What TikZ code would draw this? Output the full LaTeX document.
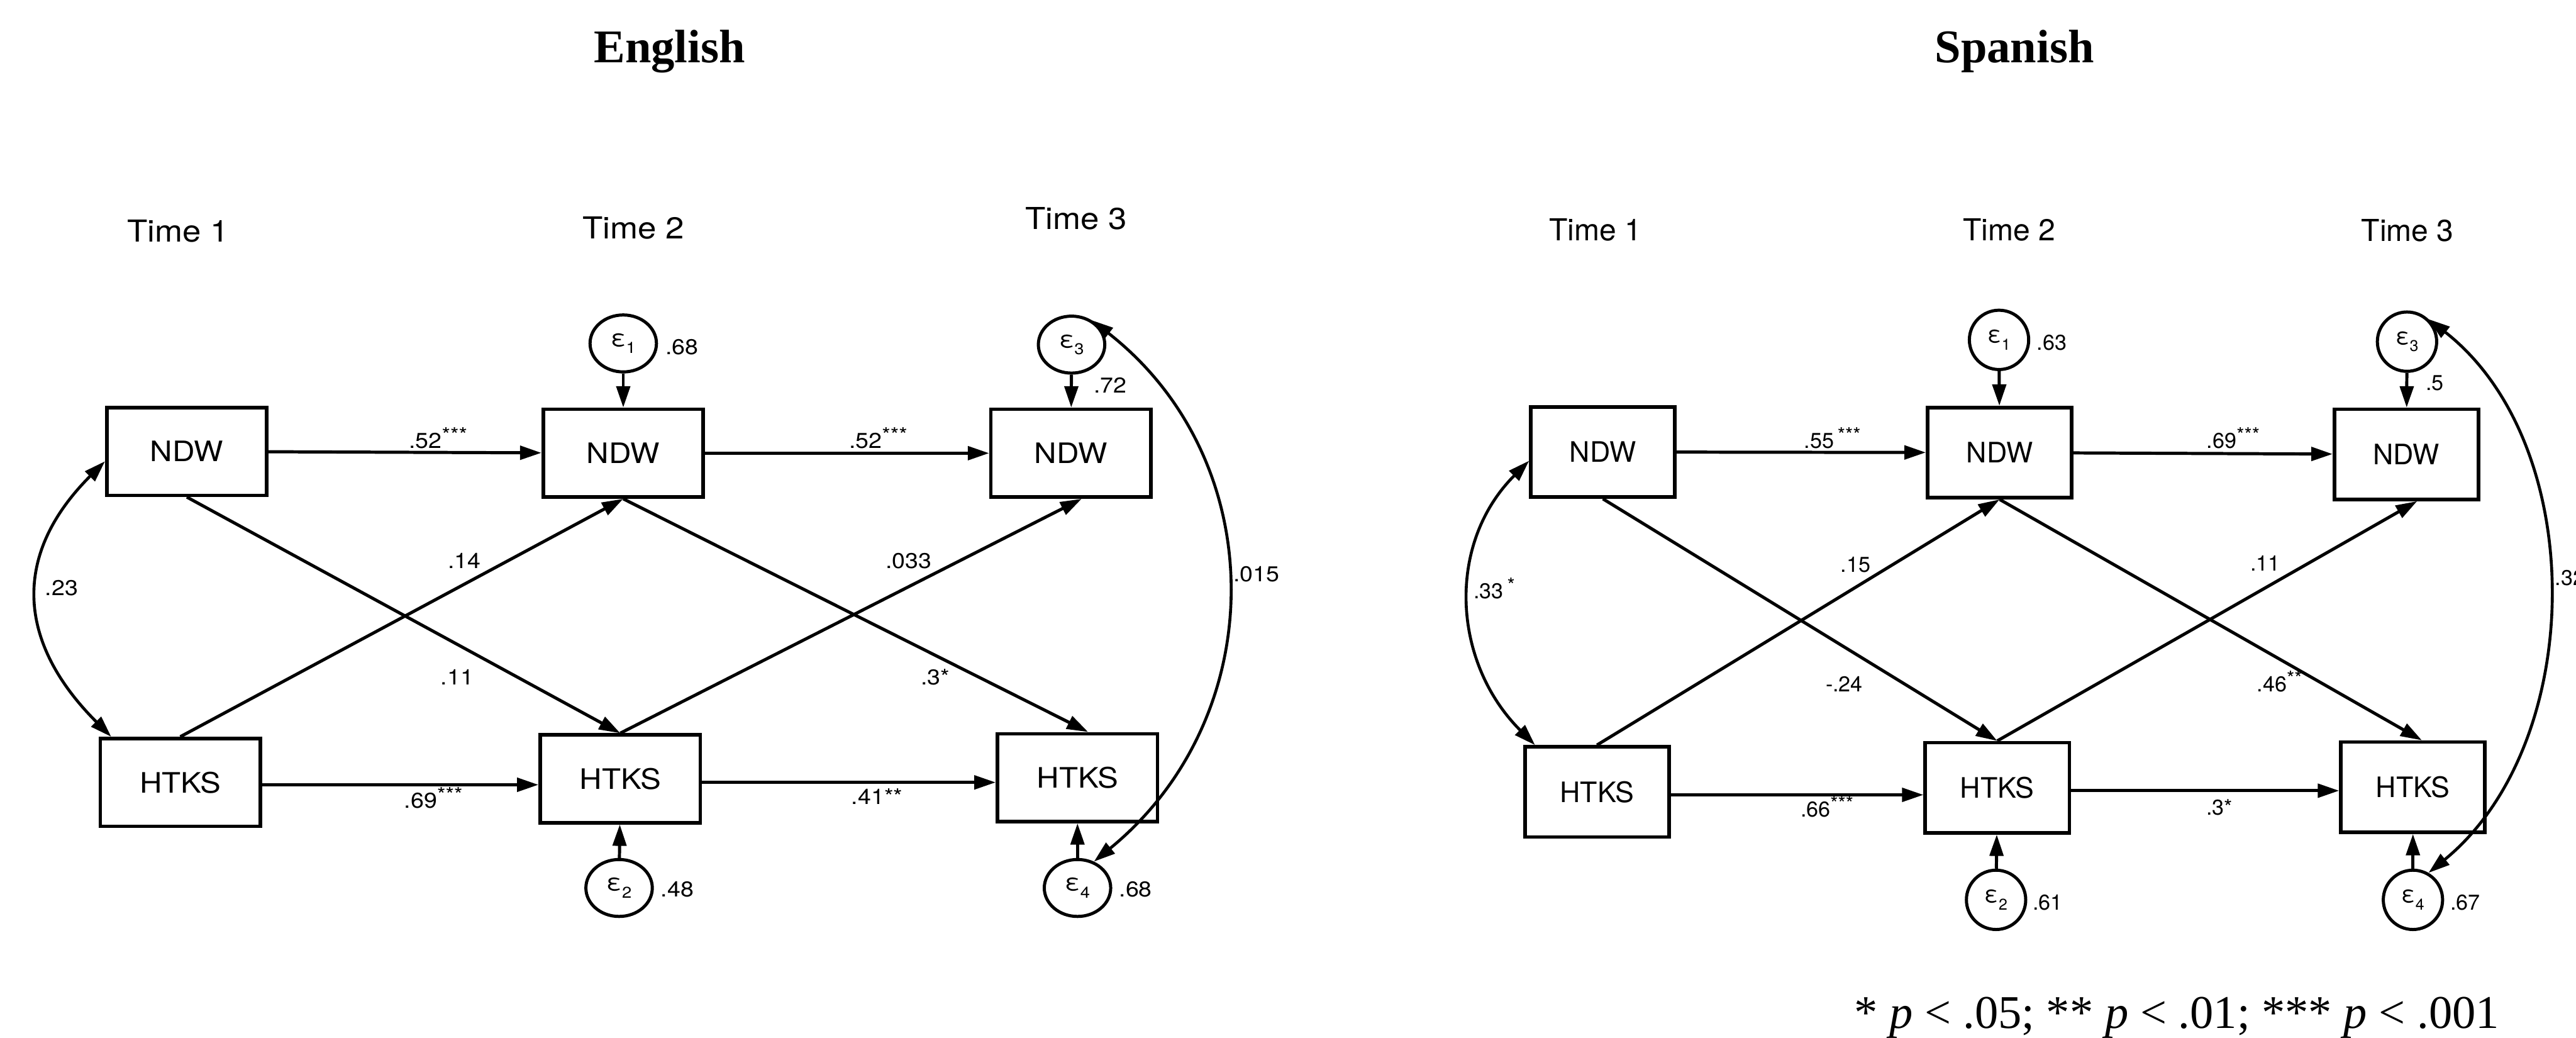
\documentclass[tikz,border=0pt]{standalone}
\usepackage{fontspec}
\setmainfont{Liberation Serif}
\newfontfamily\sansen[FakeStretch=1.1]{TeX Gyre Heros}
\newfontfamily\sanses{TeX Gyre Heros}
\usetikzlibrary{arrows.meta,shapes.geometric}

\newcommand{\errsym}[1]{ε\raisebox{-0.6ex}{\fontsize{7.5}{9}\selectfont #1}}
\newcommand{\stars}[1]{\raisebox{3pt}{\fontsize{9.5}{11}\selectfont #1}}
\newcommand{\panelfont}{\sansen}

\begin{document}
\begin{tikzpicture}[
    >={Triangle[length=3.6mm,width=2.3mm]},
    var/.style={draw, line width=1.7pt, inner sep=0pt, minimum width=2.7cm, minimum height=1.48cm,
        font=\panelfont\fontsize{13.5}{16}\selectfont},
    err/.style={ellipse, draw, line width=1.5pt, inner sep=0pt, minimum width=1.12cm, minimum height=0.96cm,
        font=\panelfont\fontsize{11}{13}\selectfont},
    coef/.style={anchor=base, inner sep=0pt, font=\panelfont\fontsize{10.3}{12}\selectfont},
    timelabel/.style={anchor=base, inner sep=0pt, font=\panelfont\fontsize{14.5}{17}\selectfont},
    heading/.style={anchor=base, inner sep=0pt, font=\bfseries\fontsize{22.5}{27}\selectfont},
    reg/.style={->, line width=1.5pt},
    covar/.style={<->, line width=1.4pt},
]
\useasboundingbox (0,0) rectangle (43.44,17.49);

% === English model ===
\node[heading] (enTitle) at (11.29,16.43) {English};

\node[timelabel] (enT1) at (3.00,13.41) {Time 1};
\node[timelabel] (enT2) at (10.68,13.47) {Time 2};
\node[timelabel] (enT3) at (18.15,13.62) {Time 3};

% observed variables
\node[var] (enN1) at (3.15,9.88) {NDW};
\node[var] (enN2) at (10.51,9.85) {NDW};
\node[var] (enN3) at (18.06,9.85) {NDW};
\node[var] (enH1) at (3.04,4.30) {HTKS};
\node[var] (enH2) at (10.46,4.36) {HTKS};
\node[var] (enH3) at (18.17,4.38) {HTKS};

% residuals
\node[err] (enE1) at (10.51,11.70) {\errsym{1}};
\node[err] (enE3) at (18.07,11.68) {\errsym{3}};
\node[err] (enE2) at (10.44,2.52) {\errsym{2}};
\node[err] (enE4) at (18.17,2.52) {\errsym{4}};

% paths
\draw[reg] (enN1) -- (enN2);
\draw[reg] (enN2) -- (enN3);
\draw[reg] ([yshift=-0.4mm]enH1.east) -- ([yshift=-0.4mm]enH1.east -| enH2.west);
\draw[reg] ([yshift=-0.6mm]enH2.east) -- ([yshift=-0.6mm]enH2.east -| enH3.west);
\draw[reg] (enN1.south) -- (enH2.north);
\draw[reg] (enH1.north) -- (enN2.south);
\draw[reg] (enN2.south) -- ([xshift=1.8mm]enH3.north);
\draw[reg] (enH2.north) -- ([xshift=1.8mm]enN3.south);
\draw[reg] (enE1) -- (enN2);
\draw[reg] (enE3) -- (enN3);
\draw[reg] (enE2) -- (enH2);
\draw[reg] (enE4) -- (enH3);

% covariances
\draw[covar] ([yshift=-1.67mm]enN1.west) .. controls +(-1.585,-1.585) and +(-1.585,1.585) .. ([xshift=2.15mm]enH1.north west);
\draw[covar] (enE3.50) .. controls +(3.044,-2.38) and +(2.99,2.445) .. (enE4.58);

% estimates
\node[coef] (enC1) at (7.39,9.93) {.52\stars{***}};
\node[coef] (enC2) at (14.81,9.93) {.52\stars{***}};
\node[coef] (enC3) at (7.83,7.91) {.14};
\node[coef] (enC4) at (7.71,5.95) {.11};
\node[coef] (enC5) at (15.32,7.91) {.033};
\node[coef] (enC6) at (15.77,5.95) {.3*};
\node[coef] (enC7) at (7.31,3.87) {.69\stars{***}};
\node[coef] (enC8) at (14.79,3.93) {.41**};
\node[coef] (enC9) at (1.04,7.45) {.23};
\node[coef] (enC10) at (21.19,7.69) {.015};
\node[coef] (enR1) at (11.50,11.51) {.68};
\node[coef] (enR3) at (18.72,10.87) {.72};
\node[coef] (enR2) at (11.42,2.37) {.48};
\node[coef] (enR4) at (19.15,2.37) {.68};

% === Spanish model ===
\renewcommand{\panelfont}{\sanses}
\begin{scope}[var/.append style={minimum width=2.43cm, minimum height=1.52cm},
              err/.append style={minimum width=1cm, minimum height=1cm}]
\node[heading] (esTitle) at (33.97,16.43) {Spanish};

\node[timelabel] (esT1) at (26.90,13.43) {Time 1};
\node[timelabel] (esT2) at (33.88,13.43) {Time 2};
\node[timelabel] (esT3) at (40.60,13.42) {Time 3};

% observed variables
\node[var] (esN1) at (27.03,9.87) {NDW};
\node[var] (esN2) at (33.72,9.86) {NDW};
\node[var] (esN3) at (40.58,9.83) {NDW};
\node[var] (esH1) at (26.93,4.14) {HTKS};
\node[var] (esH2) at (33.68,4.21) {HTKS};
\node[var] (esH3) at (40.69,4.22) {HTKS};

% residuals
\node[err] (esE1) at (33.71,11.76) {\errsym{1}};
\node[err] (esE3) at (40.59,11.73) {\errsym{3}};
\node[err] (esE2) at (33.66,2.32) {\errsym{2}};
\node[err] (esE4) at (40.69,2.32) {\errsym{4}};

% paths
\draw[reg] (esN1) -- (esN2);
\draw[reg] (esN2) -- (esN3);
\draw[reg] ([yshift=-0.5mm]esH1.east) -- ([yshift=-0.5mm]esH1.east -| esH2.west);
\draw[reg] ([yshift=-0.5mm]esH2.east) -- ([yshift=-0.5mm]esH2.east -| esH3.west);
\draw[reg] (esN1.south) -- (esH2.north);
\draw[reg] (esH1.north) -- (esN2.south);
\draw[reg] (esN2.south) -- ([xshift=1.5mm]esH3.north);
\draw[reg] (esH2.north) -- ([xshift=1.8mm]esN3.south);
\draw[reg] (esE1) -- (esN2);
\draw[reg] (esE3) -- (esN3);
\draw[reg] (esE2) -- (esH2);
\draw[reg] (esE4) -- (esH3);

% covariances
\draw[covar] ([yshift=-1.48mm]esN1.west) .. controls +(-1.4,-1.4) and +(-1.4,1.4) .. ([xshift=2mm]esH1.north west);
\draw[covar] (esE3.46) .. controls +(2.715,-2.122) and +(2.666,2.18) .. (esE4.60);

% estimates
\node[coef] (esC1) at (30.90,9.93) {.55\,\stars{***}};
\node[coef] (esC2) at (37.66,9.93) {.69\stars{***}};
\node[coef] (esC3) at (31.29,7.84) {.15};
\node[coef] (esC4) at (31.10,5.83) {-.24};
\node[coef] (esC5) at (38.20,7.87) {.11};
\node[coef] (esC6) at (38.44,5.83) {.46\stars{**}};
\node[coef] (esC7) at (30.81,3.72) {.66\stars{***}};
\node[coef] (esC8) at (37.43,3.75) {.3*};
\node[coef] (esC9) at (25.20,7.40) {.33\,\stars{*}};
\node[coef, anchor=base west] (esC10) at (43.08,7.62) {.32};
\node[coef] (esR1) at (34.60,11.59) {.63};
\node[coef] (esR3) at (41.06,10.91) {.5};
\node[coef] (esR2) at (34.53,2.15) {.61};
\node[coef] (esR4) at (41.57,2.15) {.67};
\end{scope}

% significance levels
\node[anchor=base, inner sep=0pt, font=\fontsize{22.5}{27}\selectfont] (sigNote) at (36.71,0.16)
    {* \textit{p} < .05; ** \textit{p} < .01; *** \textit{p} < .001};

\end{tikzpicture}
\end{document}
